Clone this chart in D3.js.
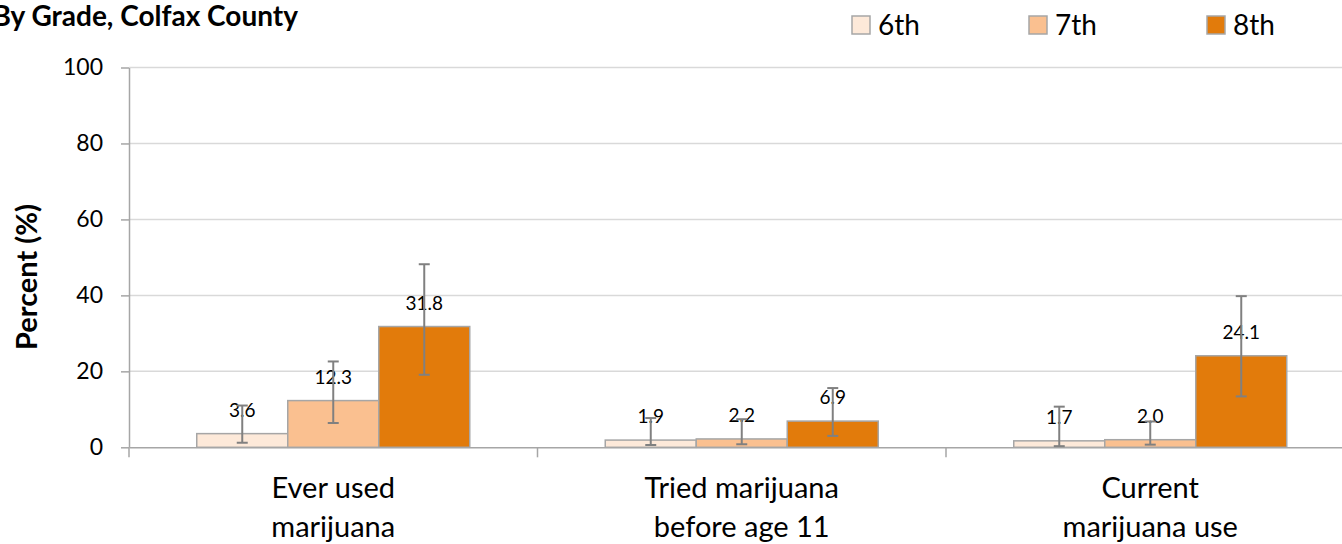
<!DOCTYPE html>
<html>
<head>
<meta charset="utf-8">
<script src="https://cdn.jsdelivr.net/npm/d3@7"></script>
<style>
  html, body { margin: 0; padding: 0; background: #fff; }
  svg { display: block; font-family: Lato, "Open Sans", sans-serif; }
</style>
</head>
<body>
<svg id="chart" width="1342" height="544"></svg>
<script>
// ---- data ----
const title = "By Grade, Colfax County";
const yLabel = "Percent (%)";
const categories = [["Ever used", "marijuana"], ["Tried marijuana", "before age 11"], ["Current", "marijuana use"]];
const grades = ["6th", "7th", "8th"];
const values6th = [3.6, 1.9, 1.7];
const values7th = [12.3, 2.2, 2.0];
const values8th = [31.8, 6.9, 24.1];
const lower6th = [1.2, 0.6, 0.3];
const upper6th = [11.0, 7.7, 10.7];
const lower7th = [6.4, 0.8, 0.7];
const upper7th = [22.6, 7.4, 6.8];
const lower8th = [19.1, 3.0, 13.4];
const upper8th = [48.2, 15.6, 39.8];
const yTicks = [0, 20, 40, 60, 80, 100];
const colors = ["#FDE9D9", "#FAC090", "#E27B0B"];

const seriesValues = [values6th, values7th, values8th];
const seriesLower = [lower6th, lower7th, lower8th];
const seriesUpper = [upper6th, upper7th, upper8th];

// ---- layout ----
const svg = d3.select("#chart");
const mLeft = 129, mRight = 1354.5, mTop = 67.5, mBottom = 447.3;
const catKeys = categories.map(c => c.join(" "));

const x0 = d3.scaleBand().domain(catKeys).range([mLeft, mRight]).paddingInner(0).paddingOuter(0);
const x1 = d3.scaleBand().domain(grades).range([0, x0.bandwidth()]).paddingInner(0).paddingOuter(0.7445);
const y = d3.scaleLinear().domain([0, 100]).range([mBottom, mTop]);

// gridlines
svg.append("g").selectAll("line").data(yTicks.filter(t => t > 0)).join("line")
  .attr("x1", mLeft).attr("x2", mRight)
  .attr("y1", d => y(d)).attr("y2", d => y(d))
  .attr("stroke", "#d9d9d9").attr("stroke-width", 1.5);

// y axis
const yAxis = d3.axisLeft(y).tickValues(yTicks).tickSize(8).tickPadding(18).tickSizeOuter(0);
const gy = svg.append("g").attr("transform", `translate(${mLeft},0)`).call(yAxis);
gy.select(".domain").attr("stroke", "#a6a6a6").attr("stroke-width", 1.5);
gy.selectAll(".tick line").attr("stroke", "#a6a6a6").attr("stroke-width", 1.5);
gy.selectAll(".tick text").attr("font-size", 23).attr("fill", "#000").attr("font-family", "Lato, sans-serif");

// x axis
const xAxis = d3.axisBottom(x0).tickSize(0).tickFormat(() => "");
const gx = svg.append("g").attr("transform", `translate(0,${mBottom})`).call(xAxis);
gx.select(".domain").attr("stroke", "#a6a6a6").attr("stroke-width", 1.5);
// category boundary ticks
const boundaries = catKeys.map(k => x0(k)).concat([x0(catKeys[catKeys.length - 1]) + x0.bandwidth()]);
svg.append("g").selectAll("line").data(boundaries).join("line")
  .attr("x1", d => d).attr("x2", d => d)
  .attr("y1", mBottom).attr("y2", mBottom + 10)
  .attr("stroke", "#a6a6a6").attr("stroke-width", 1.5);

// category labels
categories.forEach((lines, i) => {
  const cx = x0(catKeys[i]) + x0.bandwidth() / 2;
  const t = svg.append("text").attr("text-anchor", "middle").attr("font-size", 29).attr("fill", "#000");
  lines.forEach((ln, j) => {
    t.append("tspan").attr("x", cx).attr("y", 498 + j * 39).text(ln);
  });
});

// bars
const barsG = svg.append("g");
grades.forEach((g, si) => {
  const vals = seriesValues[si];
  barsG.append("g").selectAll("rect").data(vals).join("rect")
    .attr("x", (d, i) => x0(catKeys[i]) + x1(g))
    .attr("width", x1.bandwidth())
    .attr("y", d => y(d))
    .attr("height", d => y(0) - y(d))
    .attr("fill", colors[si])
    .attr("stroke", "#a6a6a6").attr("stroke-width", 1.5);
});

// data labels
grades.forEach((g, si) => {
  const vals = seriesValues[si];
  svg.append("g").selectAll("text").data(vals).join("text")
    .attr("x", (d, i) => x0(catKeys[i]) + x1(g) + x1.bandwidth() / 2)
    .attr("y", d => y(d) - 17)
    .attr("text-anchor", "middle").attr("font-size", 19).attr("fill", "#000")
    .text(d => d.toFixed(1));
});

// error bars
grades.forEach((g, si) => {
  const lo = seriesLower[si], hi = seriesUpper[si];
  const eg = svg.append("g").attr("stroke", "#808080").attr("stroke-width", 2);
  lo.forEach((l, i) => {
    const cx = x0(catKeys[i]) + x1(g) + x1.bandwidth() / 2;
    eg.append("line").attr("x1", cx).attr("x2", cx).attr("y1", y(l)).attr("y2", y(hi[i]));
    eg.append("line").attr("x1", cx - 5.5).attr("x2", cx + 5.5).attr("y1", y(l)).attr("y2", y(l));
    eg.append("line").attr("x1", cx - 5.5).attr("x2", cx + 5.5).attr("y1", y(hi[i])).attr("y2", y(hi[i]));
  });
});

// y label
svg.append("text")
  .attr("transform", `translate(37,${(202 + 352) / 2}) rotate(-90)`)
  .attr("text-anchor", "middle").attr("font-size", 29).attr("font-weight", "bold").attr("fill", "#000")
  .text(yLabel);

// title
svg.append("text").attr("x", 298).attr("y", 26).attr("text-anchor", "end")
  .attr("font-size", 28).attr("font-weight", "bold").attr("fill", "#000").text(title);

// legend
const legendX = [852, 1029, 1207];
const lg = svg.append("g");
grades.forEach((g, i) => {
  lg.append("rect").attr("x", legendX[i]).attr("y", 16).attr("width", 18).attr("height", 18)
    .attr("fill", colors[i]).attr("stroke", "#a6a6a6").attr("stroke-width", 1.5);
  lg.append("text").attr("x", legendX[i] + 26).attr("y", 35).attr("font-size", 28).attr("fill", "#000").text(g);
});
</script>
</body>
</html>
